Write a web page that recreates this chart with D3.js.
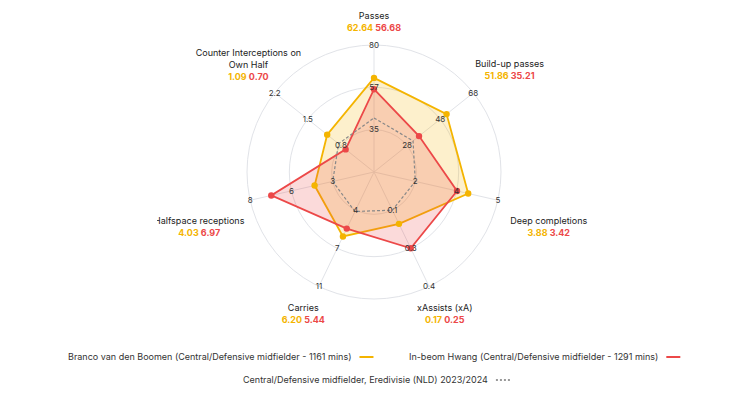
<!DOCTYPE html>
<html><head><meta charset="utf-8">
<script src="https://cdn.jsdelivr.net/npm/d3@7"></script>
<style>body{margin:0;background:#fff}text{font-family:"Inter","Liberation Sans",sans-serif}</style>
</head><body><svg id="c" width="750" height="403"></svg>
<script>
var axes = ["Passes", "Build-up passes", "Deep completions", "xAssists (xA)", "Carries", "Halfspace receptions", "Counter Interceptions on Own Half"]
var axisMin = [13, 8, 0, 0, 0, 0, 0.1]
var axisMax = [80, 68, 5.1, 0.375, 11, 8.4, 2.2]
var tickLabels = [["35","57","80"],["28","48","68"],["2","4","5"],["0.1","0.3","0.4"],["4","7","11"],["3","6","8"],["0.8","1.5","2.2"]]
var branco = [62.64, 51.86, 3.88, 0.17, 6.20, 4.03, 1.09]
var hwang = [56.68, 35.21, 3.42, 0.25, 5.44, 6.97, 0.70]
var average = [41.5, 31.6, 1.7, 0.125, 3.8, 2.8, 0.85]

var yellow = "#f4b400", red = "#ec4848"
var cx = 374, cy = 172, R = 127
var svg = d3.select("#c")
svg.append("defs").append("clipPath").attr("id", "clip")
  .append("rect").attr("x", 157).attr("y", 0).attr("width", 600).attr("height", 403)
var g = svg.append("g").attr("transform", "translate(" + cx + "," + cy + ")")

var ang = d3.scaleLinear().domain([0, axes.length]).range([0, 2 * Math.PI])
var scales = axes.map(function(a, i) {
  return d3.scaleLinear().domain([axisMin[i], axisMax[i]]).range([0, R])
})
function pt(i, r) {
  var a = ang(i)
  return [r * Math.sin(a), -r * Math.cos(a)]
}

var rings = [R / 3, 2 * R / 3, R]
g.selectAll(".ring").data(rings).enter().append("circle")
  .attr("r", function(d) { return d }).attr("fill", "none").attr("stroke", "#e1e3e8")
g.selectAll(".spoke").data(axes).enter().append("line")
  .attr("x2", function(d, i) { return pt(i, R)[0] })
  .attr("y2", function(d, i) { return pt(i, R)[1] })
  .attr("stroke", "#e1e3e8")

function poly(vals) {
  return vals.map(function(v, i) { return pt(i, scales[i](v)) })
}
var line = d3.line().curve(d3.curveLinearClosed)

g.append("path").attr("d", line(poly(branco))).attr("fill", yellow).attr("fill-opacity", 0.2)
  .attr("stroke", yellow).attr("stroke-width", 1.8)
g.append("path").attr("d", line(poly(hwang))).attr("fill", red).attr("fill-opacity", 0.2)
  .attr("stroke", red).attr("stroke-width", 1.8)
g.append("path").attr("d", line(poly(average))).attr("fill", "none")
  .attr("stroke", "#888").attr("stroke-width", 1.2).attr("stroke-dasharray", "3,2")

;[[branco, yellow], [hwang, red]].forEach(function(s) {
  g.selectAll(null).data(poly(s[0])).enter().append("circle")
    .attr("cx", function(d) { return d[0] }).attr("cy", function(d) { return d[1] })
    .attr("r", 3.2).attr("fill", s[1])
})

axes.forEach(function(a, i) {
  tickLabels[i].forEach(function(t, k) {
    var p = pt(i, rings[k])
    g.append("text").attr("x", p[0]).attr("y", p[1]).attr("dy", "0.35em")
      .attr("text-anchor", "middle").attr("font-size", 8).attr("fill", "#333").text(t)
  })
})

// axis titles
var nudge = [0, 6, 15, -5, -5, 15, 1]
var titles = g.append("g").attr("clip-path", "url(#clip)")
titles.attr("transform", "translate(" + -cx + "," + -cy + ")")
axes.forEach(function(a, i) {
  var s = Math.abs(Math.sin(ang(i)))
  var p = pt(i, 150 + 30 * s)
  var lines = i == 6 ? ["Counter Interceptions on", "Own Half"] : [a]
  var n = lines.length + 1
  var y0 = cy + p[1] - (n - 1) * 12 / 2 + nudge[i]
  var x = cx + p[0]
  if (i == 6) { x += 10 }
  lines.forEach(function(l, k) {
    titles.append("text").attr("x", x).attr("y", y0 + k * 12).attr("dy", "0.35em")
      .attr("text-anchor", "middle").attr("font-size", 9).attr("fill", "#222").text(l)
  })
  var t = titles.append("text").attr("x", x).attr("y", y0 + (n - 1) * 12).attr("dy", "0.35em")
    .attr("text-anchor", "middle").attr("font-size", 9).attr("font-weight", "bold")
  t.append("tspan").attr("fill", yellow).text(branco[i].toFixed(2) + " ")
  t.append("tspan").attr("fill", red).text(hwang[i].toFixed(2))
})

// legend
var leg = svg.append("g").attr("font-size", 9).attr("fill", "#333")
var t1 = leg.append("text").attr("x", 68).attr("y", 360).attr("fill", "#333")
  .text("Branco van den Boomen (Central/Defensive midfielder - 1161 mins)")
var w1 = t1.node().getComputedTextLength()
leg.append("line").attr("x1", 68 + w1 + 8).attr("x2", 68 + w1 + 22).attr("y1", 357).attr("y2", 357)
  .attr("stroke", yellow).attr("stroke-width", 2)
var t2 = leg.append("text").attr("x", 409).attr("y", 360).attr("fill", "#333")
  .text("In-beom Hwang (Central/Defensive midfielder - 1291 mins)")
var w2 = t2.node().getComputedTextLength()
leg.append("line").attr("x1", 409 + w2 + 8).attr("x2", 409 + w2 + 22).attr("y1", 357).attr("y2", 357)
  .attr("stroke", red).attr("stroke-width", 2)
var t3 = leg.append("text").attr("x", 243).attr("y", 383).attr("fill", "#333")
  .text("Central/Defensive midfielder, Eredivisie (NLD) 2023/2024")
var w3 = t3.node().getComputedTextLength()
leg.append("line").attr("x1", 243 + w3 + 8).attr("x2", 243 + w3 + 24).attr("y1", 380).attr("y2", 380)
  .attr("stroke", "#999").attr("stroke-width", 2).attr("stroke-dasharray", "2,2")
</script></body></html>
